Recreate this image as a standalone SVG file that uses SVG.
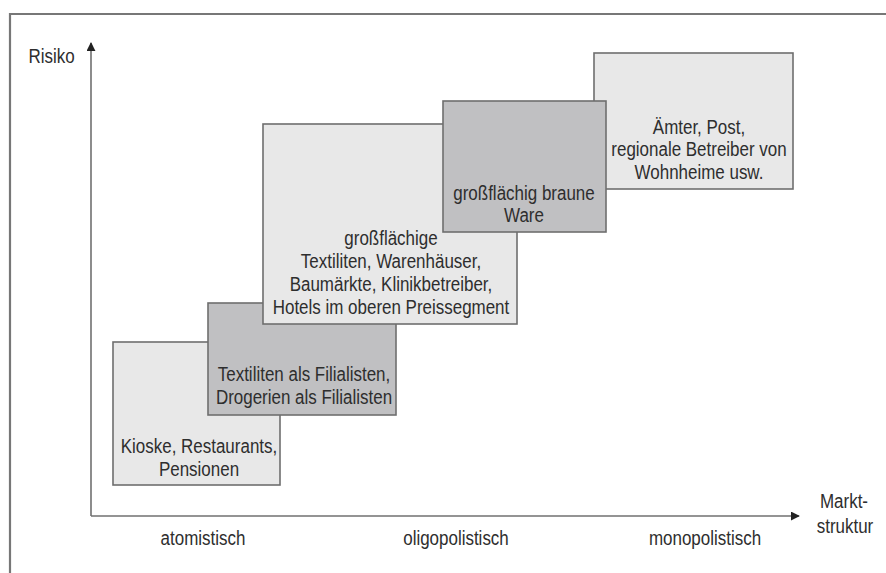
<svg xmlns="http://www.w3.org/2000/svg" width="886" height="573" viewBox="0 0 886 573">
  <style>
    text {
      font-family: "Liberation Sans", Arial, sans-serif;
      font-size: 19.5px;
      fill: #2e2e2e;
      text-anchor: middle;
      transform-box: fill-box;
      transform-origin: center;
      transform: scaleX(0.87);
    }
    .box-light { fill: #e8e8e8; stroke: #6e6e6e; stroke-width: 1.6; }
    .box-dark { fill: #c0c0c2; stroke: #6e6e6e; stroke-width: 1.6; }
    .axis { stroke: #707070; stroke-width: 1.6; fill: none; }
    .frame { stroke: #777777; stroke-width: 2.2; fill: none; }
  </style>
  <defs>
    <marker id="arrow" viewBox="0 0 10 10" refX="9" refY="5" markerWidth="9" markerHeight="9" markerUnits="userSpaceOnUse" orient="auto">
      <path d="M0,0 L10,5 L0,10 z" fill="#222222"/>
    </marker>
  </defs>

  <rect width="886" height="573" fill="#ffffff"/>

  <!-- open frame: top and left edges -->
  <path class="frame" d="M10,573 L10,14 L886,14"/>

  <!-- axes -->
  <g id="axes">
    <line class="axis" x1="91" y1="516" x2="91" y2="43" marker-end="url(#arrow)"/>
    <line class="axis" x1="91" y1="516" x2="799" y2="516" marker-end="url(#arrow)"/>
  </g>

  <text x="51.5" y="63">Risiko</text>
  <text x="844" y="508">Markt-</text>
  <text x="845" y="533">struktur</text>
  <text x="203" y="545">atomistisch</text>
  <text x="456" y="545">oligopolistisch</text>
  <text x="705" y="545">monopolistisch</text>

  <!-- segment boxes, back to front -->
  <g id="kioske">
    <rect class="box-light" x="113" y="342" width="167" height="143"/>
    <text x="199" y="453">Kioske, Restaurants,</text>
    <text x="199" y="476">Pensionen</text>
  </g>

  <g id="filialisten">
    <rect class="box-dark" x="208" y="303" width="188" height="112"/>
    <text x="304" y="381">Textiliten als Filialisten,</text>
    <text x="304" y="404">Drogerien als Filialisten</text>
  </g>

  <g id="grossflaechige">
    <rect class="box-light" x="263" y="124" width="254" height="200"/>
    <text x="391" y="245.5">großflächige</text>
    <text x="391" y="268.5">Textiliten, Warenhäuser,</text>
    <text x="391" y="291.5">Baumärkte, Klinikbetreiber,</text>
    <text x="391" y="314.5">Hotels im oberen Preissegment</text>
  </g>

  <g id="aemter">
    <rect class="box-light" x="594" y="53" width="199" height="136"/>
    <text x="699" y="134">Ämter, Post,</text>
    <text x="699" y="156.5">regionale Betreiber von</text>
    <text x="699" y="179">Wohnheime usw.</text>
  </g>

  <g id="braune-ware">
    <rect class="box-dark" x="443" y="101" width="163" height="131"/>
    <text x="524" y="200">großflächig braune</text>
    <text x="524" y="222">Ware</text>
  </g>
</svg>
